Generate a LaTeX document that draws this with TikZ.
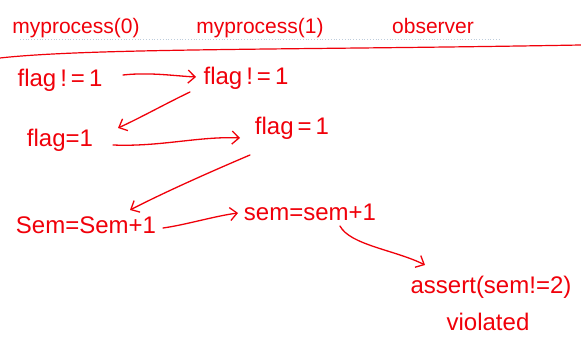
\documentclass[tikz,border=0pt]{standalone}
\usepackage{fontspec}
\setmainfont{Liberation Sans}
\usetikzlibrary{arrows.meta}
\definecolor{ink}{RGB}{240,0,10}
\definecolor{guide}{RGB}{190,205,220}
\begin{document}
\begin{tikzpicture}[x=1pt,y=-1pt,
  hand/.style={text=ink,font=\fontsize{24}{28}\selectfont,inner sep=0pt,anchor=center},
  head/.style={text=ink,font=\fontsize{21}{24}\selectfont,inner sep=0pt,anchor=center},
  conn/.style={draw=ink,line width=1.3pt,line cap=round,-{Straight Barb[length=7pt,width=13pt,line width=1.3pt]}}]
\useasboundingbox[fill=white] (0,0) rectangle (581,344);
% header
\node[head] (h0) at (76,28) {myprocess(0)};
\node[head] (h1) at (260,28) {myprocess(1)};
\node[head] (h2) at (433,26) {observer};
\coordinate (g0) at (20,39);
\coordinate (g1) at (500,39);
\draw[guide,dotted,line width=0.8pt] (g0) -- (g1);
\coordinate (r0) at (0,58);
\coordinate (r1) at (581,45);
\draw[ink,line width=1.2pt] (r0) .. controls (90,48) and (300,50) .. (r1);
% rows
\node[hand] (a0) at (60,80) {flag\,!\,=\,1};
\node[hand] (a1) at (246,78) {flag\,!\,=\,1};
\node[hand] (b0) at (60,140) {flag=1};
\node[hand] (b1) at (292,128) {flag\,=\,1};
\node[hand] (c0) at (86,225) {Sem=Sem+1};
\node[hand] (c1) at (310,212) {sem=sem+1};
\node[hand] (d0) at (491,287) {assert(sem!=2)};
\node[hand] (d1) at (488,322) {violated};
% connector ends
\coordinate (s1) at (123,75);  \coordinate (e1) at (196,77);
\coordinate (s2) at (190,92);  \coordinate (e2) at (118,128);
\coordinate (s3) at (113,145); \coordinate (e3) at (240,138);
\coordinate (s4) at (250,155); \coordinate (e4) at (130,210);
\coordinate (s5) at (163,228); \coordinate (e5) at (238,213);
\coordinate (s6) at (340,226); \coordinate (e6) at (425,265);
\draw[conn] (s1) .. controls (150,72) and (175,76) .. (e1);
\draw[conn] (s2) .. controls (165,104) and (140,118) .. (e2);
\draw[conn] (s3) .. controls (160,147) and (200,136) .. (e3);
\draw[conn] (s4) .. controls (210,172) and (165,192) .. (e4);
\draw[conn] (s5) .. controls (185,225) and (215,216) .. (e5);
\draw[conn] (s6) .. controls (350,245) and (395,250) .. (e6);
\end{tikzpicture}
\end{document}
